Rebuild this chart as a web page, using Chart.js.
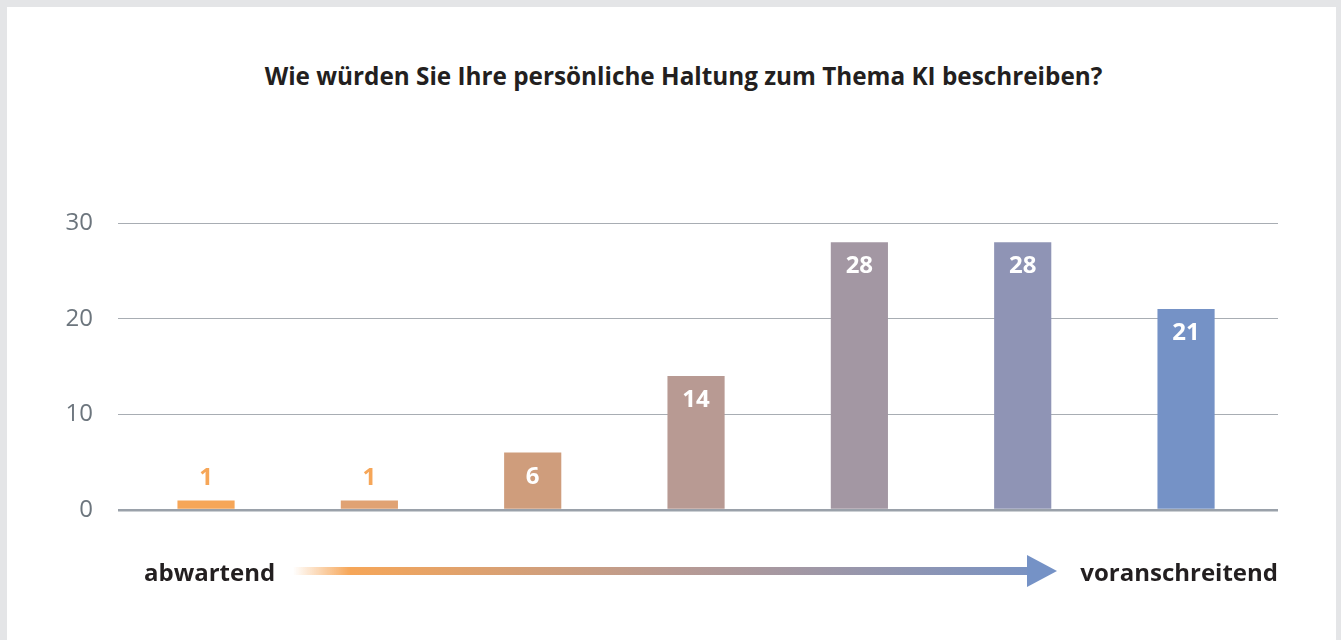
<!DOCTYPE html>
<html>
<head>
<meta charset="utf-8">
<script src="https://cdn.jsdelivr.net/npm/chart.js@4"></script>
<style>
  html, body { margin: 0; padding: 0; }
  body { width: 1341px; height: 640px; background: #e4e5e7; position: relative; overflow: hidden; font-family: "Open Sans", sans-serif; }
  #panel { position: absolute; left: 7px; top: 7px; width: 1329px; height: 640px; background: #ffffff; }
  #wrap { position: absolute; left: 0; top: 0; width: 1341px; height: 640px; }
  #title { position: absolute; left: 13px; width: 1341px; top: 59px; text-align: center; font-weight: 700; font-size: 24.3px; line-height: normal; color: #231f20; }
  .end { position: absolute; top: 555px; font-weight: 700; font-size: 24px; line-height: normal; color: #231f20; }
  #left { left: 144px; }
  #right { right: 63px; }
  #arrow { position: absolute; left: 0; top: 0; }
</style>
</head>
<body>
<div id="panel"></div>
<div id="title">Wie würden Sie Ihre persönliche Haltung zum Thema KI beschreiben?</div>
<div id="wrap"><canvas id="c" width="1341" height="640"></canvas></div>
<svg id="arrow" width="1341" height="640">
  <defs>
    <linearGradient id="g" gradientUnits="userSpaceOnUse" x1="293" y1="0" x2="1057" y2="0">
      <stop offset="0" stop-color="#f6a658" stop-opacity="0"/>
      <stop offset="0.075" stop-color="#f6a658" stop-opacity="1"/>
      <stop offset="0.5" stop-color="#b89a93"/>
      <stop offset="1" stop-color="#7592c6"/>
    </linearGradient>
  </defs>
  <rect x="293" y="567" width="740" height="8" fill="url(#g)"/>
  <polygon points="1027,555 1057,571 1027,587" fill="#7592c6"/>
</svg>
<div class="end" id="left">abwartend</div>
<div class="end" id="right">voranschreitend</div>
<script>
const categories = ["1", "2", "3", "4", "5", "6", "7"];
const values = [1, 1, 6, 14, 28, 28, 21];
const barColors = ["#f6a658", "#e0a273", "#cf9d7c", "#b89a93", "#a397a3", "#8f94b5", "#7592c6"];
const yTicks = [0, 10, 20, 30];

const points = categories.map((c, i) => ({ x: i, y: values[i] }));

const labelPlugin = {
  id: 'barLabels',
  afterDraw(chart) {
    const ctx = chart.ctx;
    const meta = chart.getDatasetMeta(0);
    ctx.save();
    ctx.font = '700 24px "Open Sans", sans-serif';
    ctx.textAlign = 'center';
    ctx.textBaseline = 'alphabetic';
    meta.data.forEach((bar, i) => {
      const v = values[i];
      if (v < 3) {
        ctx.fillStyle = '#f6a658';
        ctx.fillText(String(v), bar.x, bar.y - 15);
      } else {
        ctx.fillStyle = '#ffffff';
        ctx.fillText(String(v), bar.x, bar.y + 31);
      }
    });
    ctx.restore();
  }
};

new Chart(document.getElementById('c'), {
  type: 'bar',
  data: {
    datasets: [{
      data: points,
      backgroundColor: barColors,
      borderWidth: 0,
      categoryPercentage: 0.35,
      barPercentage: 1
    }]
  },
  options: {
    responsive: false,
    animation: false,
    layout: { padding: { left: 0, right: 63, top: 223, bottom: 130 } },
    plugins: { legend: { display: false }, tooltip: { enabled: false }, title: { display: false } },
    scales: {
      x: {
        type: 'linear', display: false, min: -0.539, max: 6.563, offset: false,
        afterBuildTicks(scale) { scale.ticks = categories.map((c, i) => ({ value: i })); }
      },
      y: {
        min: 0, max: 30,
        z: 1,
        afterFit(scale) { scale.width = 118; },
        afterBuildTicks(scale) { scale.ticks = yTicks.map(v => ({ value: v })); },
        border: { display: false },
        grid: {
          drawTicks: false,
          color: ctx => ctx.tick && ctx.tick.value === 0 ? '#9aa1aa' : 'rgba(110,118,128,0.6)',
          lineWidth: ctx => ctx.tick && ctx.tick.value === 0 ? 2.5 : 1
        },
        ticks: {
          padding: 25,
          color: '#6c757d',
          font: { family: '"Open Sans", sans-serif', size: 24 }
        }
      }
    }
  },
  plugins: [labelPlugin]
});
</script>
</body>
</html>
